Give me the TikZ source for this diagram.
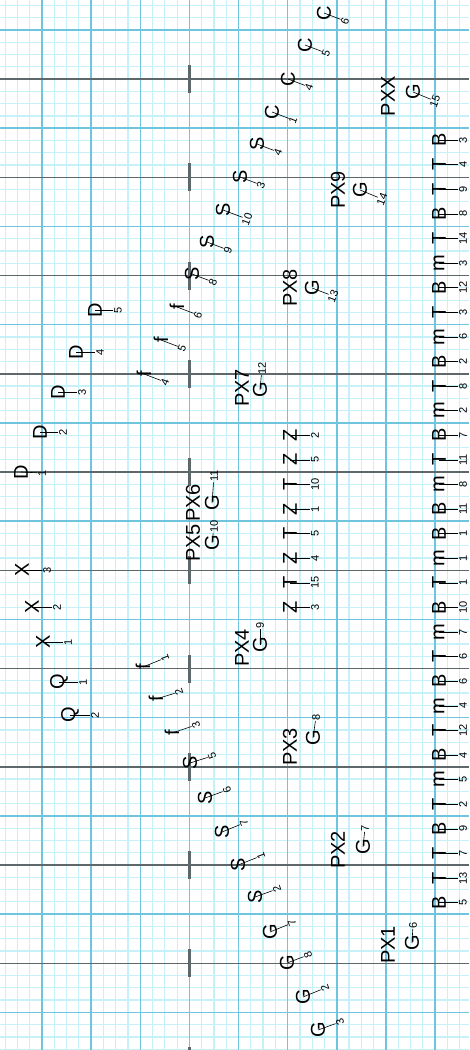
\documentclass[tikz,border=0pt]{standalone}
\usepackage{fontspec}
\setmainfont{Liberation Sans}
\definecolor{gridminor}{HTML}{C6F1F8}
\definecolor{gridmajor}{HTML}{6EC5DD}
\definecolor{yardline}{HTML}{5E686B}
\tikzset{
    sym/.style={rotate=90, inner sep=0pt, font=\fontsize{20}{20}\selectfont},
    num/.style={inner sep=0.6pt, font=\fontsize{11}{11}\selectfont},
    lead/.style={line width=0.6pt}
}
\begin{document}
\begin{tikzpicture}[x=1pt, y=-1pt]
    \useasboundingbox (0,0) rectangle (469,1050);
    \fill[white] (0,0) rectangle (469,1050);

    % Grid
    \foreach \i in {0,...,37}
        \draw[gridminor, line width=1.2pt] ({5.2+12.28*\i}, 0) -- ++(0, 1050);
    \foreach \j in {0,...,85}
        \draw[gridminor, line width=1.2pt] (0, {5.4+12.28*\j}) -- ++(469, 0);
    \foreach \i in {3,7,...,35}
        \draw[gridmajor, line width=1.5pt] ({5.2+12.28*\i}, 0) -- ++(0, 1050);
    \foreach \j in {2,6,...,82}
        \draw[gridmajor, line width=1.5pt] (0, {5.4+12.28*\j}) -- ++(469, 0);

    % Yard lines and hashes
    \foreach \j in {6,14,...,86} {
        \draw[yardline, line width=1.5pt] (0, {5.4+12.28*\j}) -- ++(469, 0);
        \draw[yardline, line width=2.6pt] (189.4, {5.4+12.28*\j-14}) -- ++(0, 28);
    }

    % Players (x/y/symbol/number/offset/turn of the number)
    \foreach \x/\y/\s/\n/\dx/\dy/\r [count=\k] in {
        324/13/C/6/21/8/69, 305/45/C/5/21/8/69, 288/79/C/4/21/8/69, 272/112/C/1/21/8/69,
        257/144/S/4/21/8/69, 240/177/S/3/21/8/69, 223/210/S/10/24/9/69, 207/242/S/9/21/8/69,
        192/274/S/8/21/8/69, 177/307/f/6/21/8/69, 161/340/f/5/21/8/69, 144/374/f/4/21/8/69,
        413/92/G/15/22/9/69, 360/190/G/14/22/9/69, 312/288/G/13/21/8/69,
        143/667/f/1/22/-9/110, 156/699/f/2/23/-7/110, 172/733/f/3/24/-8/110,
        190/763/S/5/22/-7/110, 205/798/S/6/22/-8/110, 222/832/S/7/22/-9/110,
        238/865/S/1/23/-9/110, 255/897/S/2/22/-8/110, 270/932/G/7/22/-9/110,
        287/963/G/8/21/-8/110, 303/997/G/2/22/-9/110, 318/1030/G/3/22/-8/110,
        95/310/D/5/23/0/90, 76/352/D/4/24/0/90, 58/392/D/3/24/0/90, 40/432/D/2/23/0/90,
        21/472/D/1/21/1/90, 22/570/X/3/25/0/90, 32/607/X/2/25/0/90, 43/642/X/1/25/0/90,
        59/682/Q/1/24/0/90, 70/715/Q/2/25/0/90,
        260/390/G/12/2/-22/90, 212/503/G/11/2/-27/90, 212/543/G/10/2/-17/90,
        260/645/G/9/0/-20/90, 313/738/G/8/3/-21/90, 363/847/G/7/2/-19/90,
        412/943/G/6/1/-18/90
    }{
        \node[sym] (sym\k) at (\x, \y) {\s};
        \node[num, rotate=\r] (num\k) at (\x+\dx, \y+\dy) {\n};
        \draw[lead] (sym\k.center) -- (num\k);
    }

    % Sections
    \foreach \x/\y/\t in {388/96/PXX, 338/190/PX9, 290/288/PX8, 242/388/PX7,
        193/503/PX6, 193/543/PX5, 242/648/PX4, 290/747/PX3, 338/850/PX2, 388/945/PX1}
        \node[sym] (tag\t) at (\x, \y) {\t};

    % Front rows
    \foreach \s/\n [count=\k] in {Z/2, Z/5, T/10, Z/1, T/5, Z/4, T/15, Z/3} {
        \node[sym] (row\k) at (290, {410.6+24.6*\k}) {\s};
        \node[num, rotate=90] (rowno\k) at (315, {410.6+24.6*\k}) {\n};
        \draw[lead] (row\k.center) -- (rowno\k);
    }
    \foreach \s/\n [count=\k] in {B/3, T/4, T/9, B/8, T/14, m/3, B/12, T/3, m/6, B/2,
        T/8, m/2, B/7, T/11, m/8, B/11, B/1, m/1, T/1, B/10, m/7, T/6, B/6, m/4,
        T/12, B/4, m/5, T/2, B/9, T/7, T/13, B/5} {
        \node[sym] (back\k) at (439, {115.4+24.6*\k}) {\s};
        \node[num, rotate=90] (backno\k) at (463, {115.4+24.6*\k}) {\n};
        \draw[lead] (back\k.center) -- (backno\k);
    }
\end{tikzpicture}
\end{document}
